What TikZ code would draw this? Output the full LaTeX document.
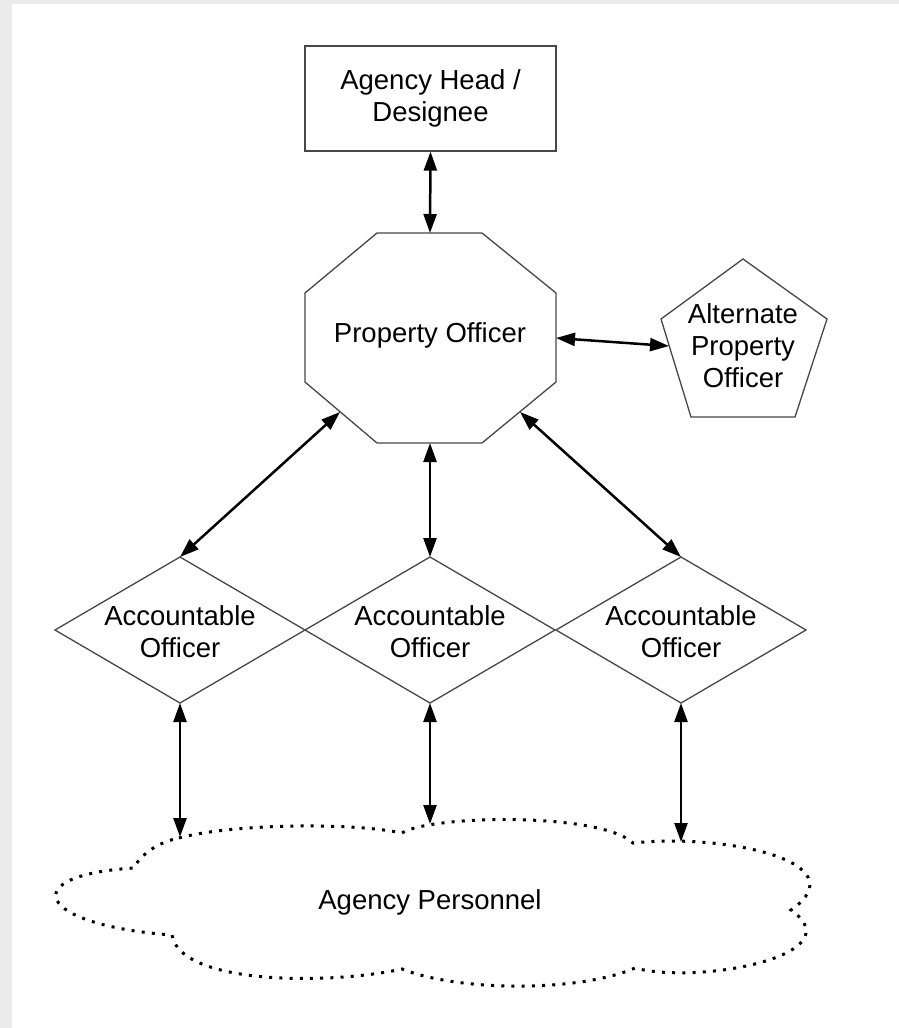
\documentclass[tikz,border=0pt]{standalone}
\usepackage{fontspec}
\setmainfont{Liberation Sans}
\usetikzlibrary{arrows.meta}
\definecolor{edgegrey}{HTML}{474747}
\definecolor{bggrey}{HTML}{EBEBEB}
\begin{document}
\begin{tikzpicture}[x=0.5pt,y=-0.5pt,
  shapeline/.style={draw=edgegrey,line width=0.65pt},
  lbl/.style={font=\fontsize{13.75}{16}\selectfont,align=center,inner sep=0pt},
  link/.style={line width=1.25pt,{Triangle[length=9.5pt,width=6.5pt]}-{Triangle[length=9.5pt,width=6.5pt]}},
  cloudline/.style={draw=black,line width=1.5pt,dash pattern=on 1.5pt off 3.6pt}]
% background and frame
\useasboundingbox (0,0) rectangle (899,1028);
\fill[white] (0,0) rectangle (899,1028);
\fill[bggrey] (0,0) rectangle (12,1028);
\fill[bggrey] (0,0) rectangle (899,4);

% Agency head box
\node[shapeline,lbl,minimum width=125.5pt,minimum height=52.5pt] (head) at (430.5,98.5) {Agency Head /\\Designee};

% Property officer octagon
\draw[shapeline] (377,233) -- (482,233) -- (556,293) -- (556,382) -- (482,443)
  -- (377,443) -- (305,382) -- (305,293) -- cycle;
\node[lbl] (po) at (430,335) {Property Officer};
\coordinate (po-n) at (430,233);
\coordinate (po-e) at (556,338);
\coordinate (po-sw) at (340,412);
\coordinate (po-s) at (430,443);
\coordinate (po-se) at (520,412);

% Alternate property officer pentagon
\draw[shapeline] (743,259) -- (827,319) -- (795,417) -- (691,417) -- (661,319) -- cycle;
\node[lbl] (apo) at (743,346) {Alternate\\Property\\Officer};
\coordinate (apo-w) at (669,346);

% Accountable officer diamonds
\foreach \cx/\nm in {180/ao1,430/ao2,681/ao3}{
  \draw[shapeline] (\cx,557) -- (\cx+125,630) -- (\cx,703) -- (\cx-125,630) -- cycle;
  \node[lbl] (\nm) at (\cx,632) {Accountable\\Officer};
  \coordinate (\nm-n) at (\cx,557);
  \coordinate (\nm-s) at (\cx,703);
}

% Agency personnel cloud
\draw[cloudline] (179,838)
  .. controls (230,824) and (350,822) .. (402,833)
  .. controls (430,815) and (600,812) .. (633,843)
  .. controls (725,833) and (860,862) .. (791,910)
  .. controls (855,955) and (700,985) .. (635,968)
  .. controls (580,992) and (460,992) .. (402,969)
  .. controls (330,985) and (180,985) .. (172,935)
  .. controls (35,925) and (15,875) .. (134,868)
  .. controls (140,855) and (158,842) .. cycle;
\node[lbl] (ap) at (430,902) {Agency Personnel};
\coordinate (ap-1) at (180,837);
\coordinate (ap-2) at (430,824);
\coordinate (ap-3) at (681,842);

% connectors
\draw[link] (head.south) -- (po-n);
\draw[link] (po-e) -- (apo-w);
\draw[link] (po-sw) -- (ao1-n);
\draw[link] (po-s) -- (ao2-n);
\draw[link] (po-se) -- (ao3-n);
\draw[link] (ao1-s) -- (ap-1);
\draw[link] (ao2-s) -- (ap-2);
\draw[link] (ao3-s) -- (ap-3);
\end{tikzpicture}
\end{document}
